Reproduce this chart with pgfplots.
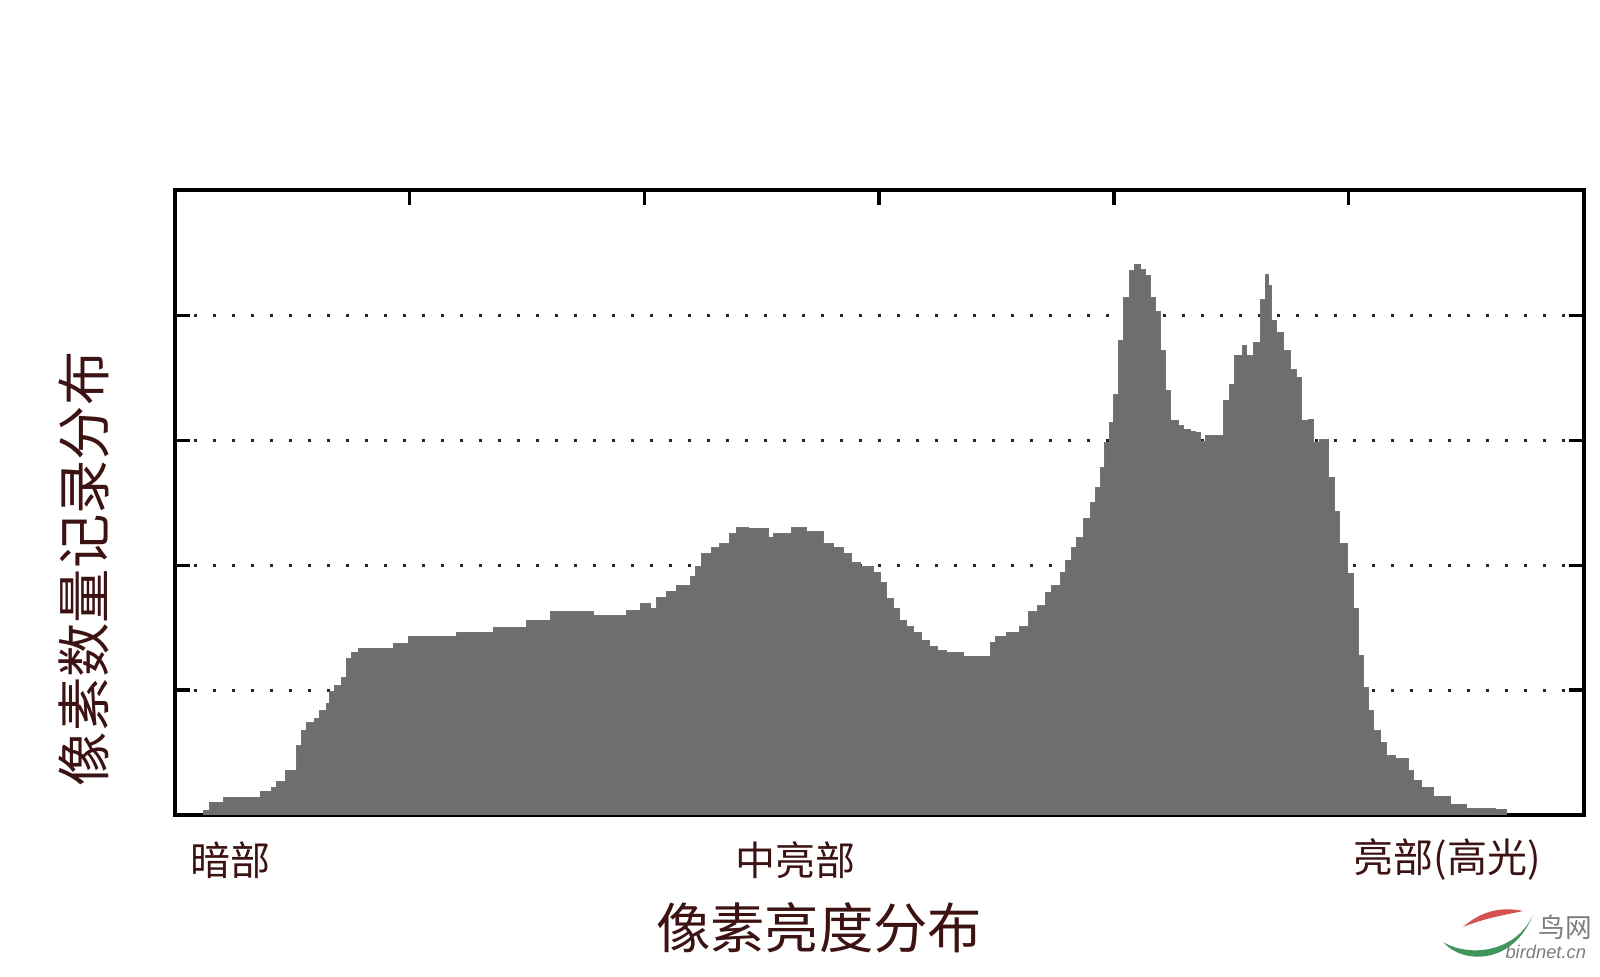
\documentclass[border=0pt]{standalone}
\usepackage{pgfplots}
\pgfplotsset{compat=1.18}
\usepackage{fontspec}
\setmainfont{Liberation Sans}
\newfontfamily\cjk{Noto Sans CJK SC}
\definecolor{txt}{RGB}{60,18,18}
\definecolor{histfill}{RGB}{110,110,110}
\definecolor{logored}{RGB}{212,82,82}
\definecolor{logogreen}{RGB}{62,150,92}
\definecolor{logogray}{RGB}{125,125,125}
\begin{document}
\begin{tikzpicture}
\path[use as bounding box] (0,0) rectangle (480pt,-293.1pt);
\begin{axis}[
  at={(52.35pt,-244.5pt)}, anchor=south west,
  scale only axis, width=422.7pt, height=187.35pt,
  xmin=0, xmax=255, ymin=0, ymax=5,
  xtick={42.5,85,127.5,170,212.5}, ytick={1,2,3,4},
  xticklabels={}, yticklabels={},
  tick pos=both, tick align=inside,
  major tick length=4.5pt,
  tick style={black, line width=1pt},
  axis line style={black, line width=1.2pt},
  ymajorgrids,
  major grid style={black!85, line width=0.9pt, dash pattern=on 0.9pt off 4.8pt},
]
\addplot[const plot, fill=histfill, draw=black!55, line width=0.3pt] table {
x y
5.2 0.035
6.4 0.10
8.8 0.14
15.5 0.19
17.6 0.22
18.5 0.27
20.0 0.36
22.1 0.56
23.0 0.68
23.9 0.74
25.4 0.77
26.3 0.84
27.5 0.89
28.1 0.99
29.0 1.04
30.3 1.10
31.2 1.25
32.1 1.30
33.3 1.33
39.6 1.37
42.3 1.43
51.1 1.46
57.7 1.50
63.7 1.56
68.0 1.63
75.8 1.60
81.8 1.64
84.3 1.69
86.1 1.65
87.3 1.74
89.1 1.79
90.9 1.84
93.3 1.91
94.2 1.99
95.4 2.09
97.2 2.14
98.7 2.17
100.5 2.25
101.8 2.30
103.9 2.29
107.5 2.22
108.4 2.25
111.7 2.30
114.4 2.27
117.4 2.17
119.2 2.14
121.0 2.09
122.6 2.02
124.1 1.99
126.5 1.94
127.7 1.86
128.9 1.73
130.1 1.65
131.3 1.56
132.5 1.51
133.7 1.46
135.2 1.40
136.7 1.35
138.0 1.32
139.8 1.30
142.8 1.27
147.6 1.38
148.5 1.43
150.6 1.46
153.0 1.51
154.5 1.63
156.1 1.68
157.6 1.78
158.8 1.84
160.3 1.94
161.2 2.04
162.4 2.14
163.3 2.22
164.5 2.37
165.7 2.50
166.6 2.62
167.5 2.78
168.4 2.98
169.3 3.14
169.9 3.37
170.8 3.80
171.7 4.14
172.8 4.36
173.8 4.41
174.8 4.37
175.7 4.32
176.6 4.14
177.5 4.03
178.4 3.72
179.3 3.40
180.2 3.16
181.7 3.12
182.6 3.09
183.8 3.07
184.7 3.06
185.6 2.99
186.5 3.04
189.8 3.32
191.0 3.45
191.9 3.68
193.2 3.76
194.1 3.68
195.3 3.78
196.5 4.13
197.4 4.33
198.0 4.24
198.6 3.96
199.5 3.86
200.7 3.72
201.9 3.57
203.1 3.50
204.0 3.16
205.2 3.17
206.1 2.98
207.3 3.01
208.8 2.70
210.0 2.43
210.9 2.17
212.2 1.93
213.4 1.65
214.3 1.28
215.2 1.02
216.1 0.84
217.0 0.68
218.2 0.58
219.4 0.48
220.9 0.45
223.3 0.36
224.2 0.28
225.7 0.22
227.8 0.15
230.9 0.08
233.9 0.05
239.0 0.04
241.0 0.00
} \closedcycle;
\end{axis}
\begin{scope}[x=0.3pt,y=-0.3pt]
\node[txt, font={\cjk\fontsize{12pt}{14pt}\selectfont}] at (230,860) {暗部};
\node[txt, font={\cjk\fontsize{12pt}{14pt}\selectfont}] at (795,860) {中亮部};
\node[txt, font={\cjk\fontsize{12pt}{14pt}\selectfont}] at (1447,860) {亮部(高光)};
\node[txt, font={\cjk\fontsize{16.3pt}{18pt}\selectfont}] at (819,928) {像素亮度分布};
\node[txt, rotate=90, font={\cjk\fontsize{16.3pt}{18pt}\selectfont}] at (84,569) {像素数量记录分布};
\fill[logored] (1463,927) .. controls (1480,912) and (1500,906) .. (1523,911) .. controls (1505,915) and (1485,918) .. (1463,927) -- cycle;
\fill[logogreen] (1443,942) .. controls (1462,964) and (1512,966) .. (1533,915) .. controls (1516,952) and (1470,958) .. (1443,942) -- cycle;
\node[logogray, font={\cjk\fontsize{8pt}{9pt}\selectfont}, anchor=west] at (1527,927) {鸟网};
\node[logogray, font={\fontsize{5.5pt}{6.5pt}\selectfont\itshape}, anchor=east, inner sep=1pt] at (1590,952) {birdnet.cn};
\end{scope}
\end{tikzpicture}
\end{document}
